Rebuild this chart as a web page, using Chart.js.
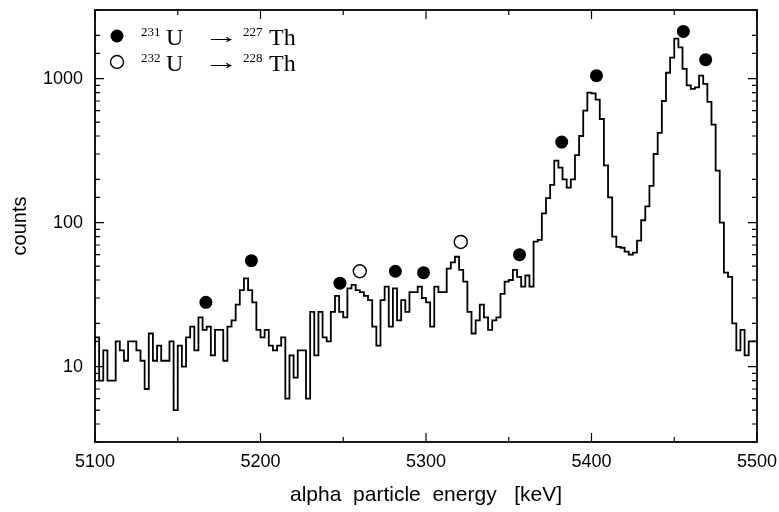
<!DOCTYPE html>
<html>
<head>
<meta charset="utf-8">
<script src="https://cdn.jsdelivr.net/npm/chart.js@4.4.1/dist/chart.umd.min.js"></script>
<style>
  html, body { margin: 0; padding: 0; background: #fff; }
</style>
</head>
<body>
<canvas id="spectrum" width="779" height="512"></canvas>
<script>
// alpha spectrum, 2.5 keV per channel starting at 5100 keV
const binStart = 5100
const binWidth = 2.5
const counts = [
  14, 16, 8, 13, 8, 8, 15, 13, 11, 15,
  15, 13, 11, 7, 17, 11, 14, 11, 11, 15,
  5, 14, 10, 16, 19, 13, 22, 18, 19, 12,
  18, 18, 11, 19, 21, 27, 34, 41, 34, 28,
  18, 16, 18, 14, 13, 14, 16, 6, 12, 8.4,
  13, 13, 6, 24, 12, 24, 16, 15, 24, 31,
  24, 22, 35, 37, 34, 33, 31, 29, 19, 14,
  29, 36, 19, 35, 21, 29, 24, 33, 33, 36,
  30, 28, 19, 36, 33, 33, 48, 53, 58, 47,
  39, 24, 17, 21, 27, 22, 18, 21, 22, 32,
  39, 40, 47, 42, 36, 43, 36, 74, 76, 116,
  148, 183, 270, 241, 200, 175, 200, 295, 400, 600,
  800, 790, 715, 525, 250, 150, 80, 68, 67, 63,
  60, 62, 75, 104, 130, 180, 300, 420, 700, 1100,
  1400, 1900, 1650, 1170, 900, 850, 870, 1050, 920, 690,
  480, 230, 100, 45, 42, 20, 13, 18, 12, 15
]

// peak markers: 231U -> 227Th (filled) and 232U -> 228Th (open)
const u231Energy = [5167, 5194.5, 5248, 5281.5, 5298.5, 5356.5, 5382, 5403, 5455.5, 5469]
const u231Counts = [28, 54.5, 38, 46, 45, 60, 363, 1050, 2130, 1355]
const u232Energy = [5260, 5321]
const u232Counts = [46, 73.5]

const xLabels = [5100, 5200, 5300, 5400, 5500]
const yLabels = [10, 100, 1000]

const histogram = counts.map((c, i) => ({ x: binStart + i * binWidth, y: c }))
histogram.push({ x: binStart + counts.length * binWidth, y: counts[counts.length - 1] })

const toPoints = (xs, ys) => xs.map((x, i) => ({ x, y: ys[i] }))

const sans = "'Liberation Sans', Arial, sans-serif"
const serif = "'Liberation Serif', 'Times New Roman', serif"

// frame, inward ticks on all four sides, and the decay legend
const framePlugin = {
  id: 'frame',
  afterDraw(chart) {
    const { ctx, chartArea: a, scales: { x, y } } = chart
    ctx.save()
    ctx.strokeStyle = '#000'
    ctx.lineWidth = 1.8
    ctx.strokeRect(a.left, a.top, a.right - a.left, a.bottom - a.top)

    ctx.lineWidth = 1.2
    ctx.beginPath()
    x.ticks.forEach(t => {
      const px = x.getPixelForValue(t.value)
      const len = xLabels.includes(t.value) ? 9 : 5
      ctx.moveTo(px, a.bottom); ctx.lineTo(px, a.bottom - len)
      ctx.moveTo(px, a.top); ctx.lineTo(px, a.top + len)
    })
    y.ticks.forEach(t => {
      const py = y.getPixelForValue(t.value)
      const len = yLabels.includes(t.value) ? 9 : 5
      ctx.moveTo(a.left, py); ctx.lineTo(a.left + len, py)
      ctx.moveTo(a.right, py); ctx.lineTo(a.right - len, py)
    })
    ctx.stroke()

    const rows = [
      { y: 36, filled: true, parent: '231', daughter: '227' },
      { y: 62, filled: false, parent: '232', daughter: '228' }
    ]
    rows.forEach(r => {
      ctx.beginPath()
      ctx.arc(117, r.y, 6.5, 0, Math.PI * 2)
      if (r.filled) {
        ctx.fillStyle = '#000'
        ctx.fill()
      } else {
        ctx.fillStyle = '#fff'
        ctx.fill()
        ctx.lineWidth = 1.4
        ctx.stroke()
      }
      ctx.fillStyle = '#000'
      ctx.textAlign = 'left'
      ctx.textBaseline = 'alphabetic'
      const base = r.y + 9
      ctx.font = '13px ' + serif
      ctx.fillText(r.parent, 141, base - 9)
      ctx.fillText(r.daughter, 243, base - 9)
      ctx.font = '24px ' + serif
      ctx.fillText('U', 166, base)
      ctx.fillText('Th', 269, base)
      // stretched arrow glyph
      ctx.save()
      ctx.translate(204, base - 2)
      ctx.scale(1.6, 1)
      ctx.font = '22px ' + serif
      ctx.fillText('\u2192', 0, 0)
      ctx.restore()
    })
    ctx.restore()
  }
}

new Chart(document.getElementById('spectrum'), {
  type: 'line',
  data: {
    datasets: [
      {
        data: toPoints(u231Energy, u231Counts),
        showLine: false,
        pointRadius: 6.5,
        pointBackgroundColor: '#000',
        pointBorderColor: '#000',
        pointBorderWidth: 0
      },
      {
        data: toPoints(u232Energy, u232Counts),
        showLine: false,
        pointRadius: 6.5,
        pointBackgroundColor: '#fff',
        pointBorderColor: '#000',
        pointBorderWidth: 1.4
      },
      {
        data: histogram,
        stepped: 'after',
        borderColor: '#000',
        borderWidth: 1.8,
        pointRadius: 0,
        fill: false
      }
    ]
  },
  options: {
    responsive: false,
    animation: false,
    events: [],
    layout: { padding: { left: 0, right: 22, top: 10, bottom: 0 } },
    plugins: { legend: { display: false }, tooltip: { enabled: false } },
    scales: {
      x: {
        type: 'linear',
        min: 5100,
        max: 5500,
        grid: { display: false, drawTicks: false },
        border: { display: false },
        ticks: {
          stepSize: 50,
          autoSkip: false,
          maxRotation: 0,
          padding: 9,
          color: '#000',
          font: { family: sans, size: 18 },
          callback: v => xLabels.includes(v) ? String(v) : ''
        },
        title: {
          display: true,
          text: 'alpha  particle  energy   [keV]',
          color: '#000',
          font: { family: sans, size: 21 },
          padding: { top: 0, bottom: 4 }
        },
        afterFit: s => {
          s.height = 70
          s.paddingLeft = 0
          s.paddingRight = 0
        }
      },
      y: {
        type: 'logarithmic',
        min: 3,
        max: 3000,
        grid: { display: false, drawTicks: false },
        border: { display: false },
        ticks: {
          autoSkip: false,
          padding: 12,
          color: '#000',
          font: { family: sans, size: 18 },
          callback: v => yLabels.includes(v) ? String(v) : ''
        },
        title: {
          display: true,
          text: 'counts',
          color: '#000',
          font: { family: sans, size: 20 },
          padding: { top: 8, bottom: 0 }
        },
        afterFit: s => {
          s.width = 95
          s.paddingTop = 0
          s.paddingBottom = 0
        }
      }
    }
  },
  plugins: [framePlugin]
})
</script>
</body>
</html>
